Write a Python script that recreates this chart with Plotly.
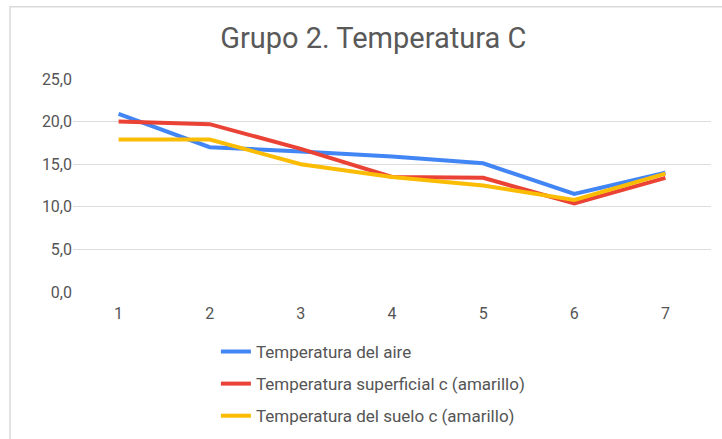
import plotly.graph_objects as go

categories = ["1", "2", "3", "4", "5", "6", "7"]
aire = [20.9, 17.0, 16.5, 15.9, 15.1, 11.5, 14.0]
superficial = [20.0, 19.7, 16.8, 13.5, 13.4, 10.4, 13.4]
suelo = [17.9, 17.9, 15.0, 13.5, 12.5, 10.8, 13.9]

names = ["Temperatura del aire", "Temperatura superficial c (amarillo)", "Temperatura del suelo c (amarillo)"]
colors = ["#4285F4", "#EA4335", "#FBBC04"]

fig = go.Figure()
for i, (vals, name, col) in enumerate(zip([aire, superficial, suelo], names, colors)):
    fig.add_trace(go.Scatter(x=categories, y=vals, mode="lines", name=name,
                             line=dict(color=col, width=4), legendgroup=str(i)))

fig.update_layout(
    width=722, height=439,
    margin=dict(l=73, r=11, t=79, b=147, autoexpand=False),
    paper_bgcolor="white", plot_bgcolor="white",
    separators=",.",
    font=dict(family="Roboto, Arial, sans-serif", color="#555555"),
    title=dict(text="Grupo 2. Temperatura C", x=0.517, xanchor="center", y=0.913, yanchor="middle",
               font=dict(size=29, color="#595959", family="Roboto, Arial, sans-serif")),
    xaxis=dict(type="category", range=[-0.5, 6.5], showgrid=False, showline=False, zeroline=False,
               ticks="", ticklabelstandoff=10, tickfont=dict(size=16, color="#555555")),
    yaxis=dict(range=[0, 25], tickvals=[0, 5, 10, 15, 20, 25], tickformat=".1f",
               showgrid=True, gridcolor="#dddddd", gridwidth=1, zeroline=False, showline=False,
               ticks="", tickfont=dict(size=16, color="#555555")),
    legend=dict(x=0.224, y=-0.197, xanchor="left", yanchor="top", orientation="v",
                font=dict(size=17, color="#555555"), tracegroupgap=7, bgcolor="rgba(0,0,0,0)"),
    showlegend=True,
)
fig.add_shape(type="rect", xref="paper", yref="paper", x0=-0.0987, x1=2, y0=-1, y1=1.339,
              line=dict(color="#dadada", width=1.5), fillcolor="rgba(0,0,0,0)", layer="below")

fig.write_html("out.html", config={"displayModeBar": False},
               post_script="document.body.style.margin='0';document.body.style.overflow='hidden';")
